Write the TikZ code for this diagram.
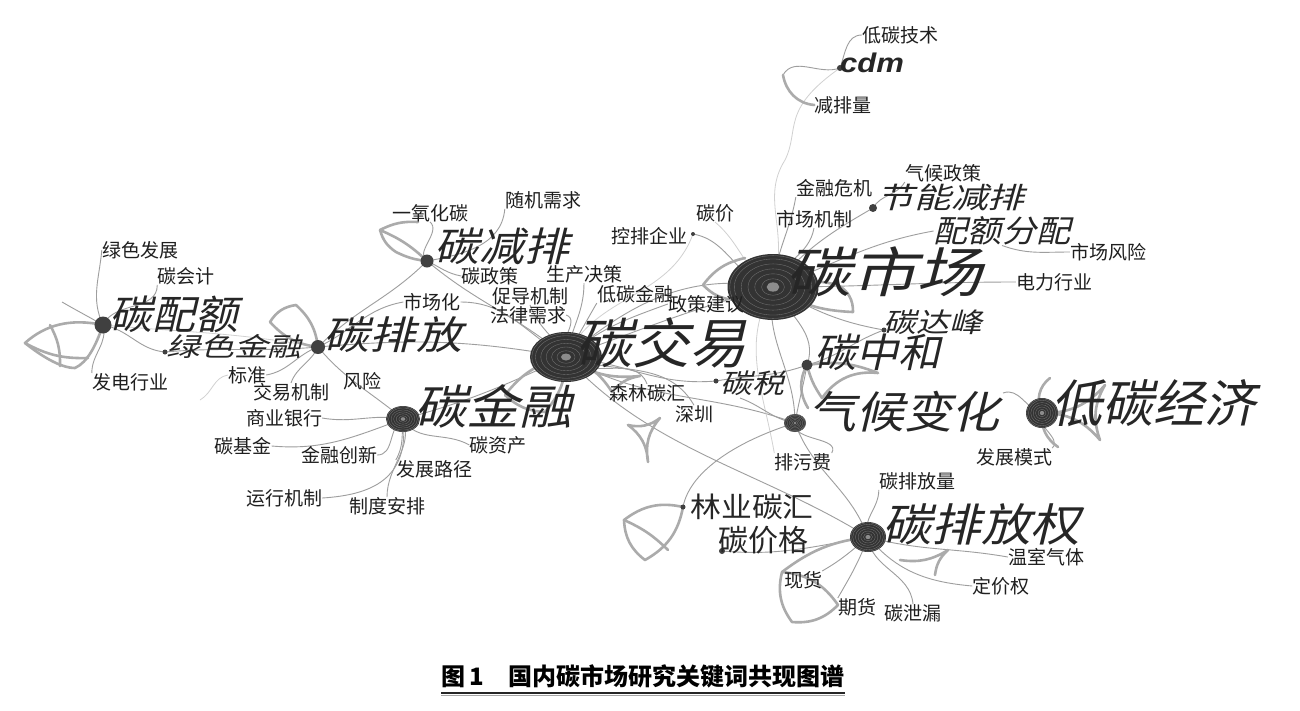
\documentclass[tikz,border=0pt]{standalone}
\usepackage{fontspec}
\newfontfamily\cjk{Noto Sans CJK SC}
\newfontfamily\cjksl[FakeSlant=0.22]{Noto Sans CJK SC}
\newfontfamily\latf{Liberation Sans}
\usetikzlibrary{shapes.geometric}
\pgfdeclarelayer{bglines}
\pgfsetlayers{bglines,main}
\newcommand\kwd[3]{\scalebox{#2}[1]{\fontsize{#1}{#1}\selectfont #3}}
\newcommand\hubrings[3]{%
  \foreach \k in {0.25,0.4,0.55,0.7,0.85,0.95}{\draw[black!55, line width=0.35pt] (#1) ellipse ({#2*\k} and {#3*\k});}%
  \fill[black!45] (#1) ellipse ({#2*0.14} and {#3*0.14});}
\tikzset{
  lbl/.style={inner sep=0pt, text=black!88, font=\cjk\fontsize{19}{19}\selectfont},
  kw/.style={inner sep=0pt, text=black!85},
  hub/.style={ellipse, inner sep=0pt, fill=black!80},
  kdot/.style={circle, inner sep=0pt, fill=black!75, minimum size=#1},
  lnk/.style={draw=black!38, line width=0.9pt},
  faint/.style={draw=black!18, line width=0.8pt},
  wing/.style={draw=black!33, line width=2.6pt, line join=round, line cap=round},
}
\begin{document}
\begin{tikzpicture}[x=1pt,y=-1pt]
\useasboundingbox (0,0) rectangle (1300,710);
\begin{pgfonlayer}{bglines}
\fill[white] (0,0) rectangle (1300,710);
\end{pgfonlayer}

% ---------- free coordinates for wing shapes / loose ends ----------
\coordinate (pe1) at (62,302);
\coordinate (w1a) at (25,343);
\coordinate (w1b) at (75,368);
\coordinate (bz1) at (200,400);
\coordinate (cdmw) at (783,75);
\coordinate (qh1) at (740,398);
\coordinate (dj1) at (1003,393);

% ---------- hubs and dots ----------
\node[hub, minimum width=91pt, minimum height=66pt] (sc) at (773,287) {};
\hubrings{sc}{45.5}{33}
\node[hub, minimum width=72pt, minimum height=50pt] (jy) at (566,357) {};
\hubrings{jy}{36}{25}
\node[hub, minimum width=34pt, minimum height=26pt] (jr) at (403,419) {};
\hubrings{jr}{17}{13}
\node[hub, minimum width=32pt, minimum height=30pt] (dj) at (1042,413) {};
\hubrings{dj}{16}{15}
\node[hub, minimum width=36pt, minimum height=30pt] (pfq) at (868,537) {};
\hubrings{pfq}{18}{15}
\node[hub, minimum width=22pt, minimum height=18pt] (qh) at (795,423) {};
\hubrings{qh}{11}{9}
\node[kdot=17pt] (pe) at (103,325) {};
\node[kdot=14pt] (pf) at (318,347) {};
\node[kdot=13pt] (jp) at (427,261) {};
\node[kdot=11pt] (zh) at (807,365) {};
\node[kdot=8pt] (jn) at (873,208) {};
\node[kdot=5pt] (ls) at (165,352) {};
\node[kdot=5pt] (tsd) at (716,381) {};
\node[kdot=5pt] (tdfd) at (884,330) {};
\node[kdot=5pt] (lyd) at (683,507) {};
\node[kdot=6pt] (tjgd) at (722,551) {};
\node[kdot=6pt] (cdmd) at (840,68) {};
\node[kdot=4pt] (kpd) at (693,234) {};

% ---------- big keyword labels ----------
\node[kw] (scL) at (884,272) {\cjksl\kwd{54}{1.22}{碳市场}};
\node[kw] (jyL) at (661,343) {\cjksl\kwd{54}{1.06}{碳交易}};
\node[kw] (djL) at (1153,403) {\cjksl\kwd{51}{1.0}{低碳经济}};
\node[kw] (qhL) at (904,412) {\cjksl\kwd{44}{1.09}{气候变化}};
\node[kw] (pfqL) at (981,524) {\cjksl\kwd{45}{1.1}{碳排放权}};
\node[kw] (jrL) at (493,406) {\cjksl\kwd{47}{1.12}{碳金融}};
\node[kw] (pfL) at (393,335) {\cjksl\kwd{39}{1.18}{碳排放}};
\node[kw] (jpL) at (502,246) {\cjksl\kwd{40}{1.12}{碳减排}};
\node[kw] (peL) at (174,314) {\cjksl\kwd{40}{1.07}{碳配额}};
\node[kw] (lsL) at (234,346) {\cjksl\kwd{26}{1.3}{绿色金融}};
\node[kw] (zhL) at (877,352) {\cjksl\kwd{40}{1.05}{碳中和}};
\node[kw] (jnL) at (951,198) {\cjksl\kwd{29}{1.27}{节能减排}};
\node[kw] (pefpL) at (1002,231) {\cjksl\kwd{31}{1.1}{配额分配}};
\node[kw] (tdfL) at (933,322) {\cjksl\kwd{27}{1.22}{碳达峰}};
\node[kw] (tsL) at (752,383) {\cjksl\kwd{27}{1.18}{碳税}};
\node[kw] (lyL) at (752,507) {\cjk\kwd{28}{1.1}{林业碳汇}};
\node[kw] (tjgL) at (763,540) {\cjk\kwd{30}{1.0}{碳价格}};
\node[kw] (cdmL) at (872,63) {\latf\bfseries\itshape\kwd{27}{1.15}{cdm}};

% ---------- small labels ----------
\node[lbl] (dtjsL) at (900,35) {低碳技术};
\node[lbl] (jplL) at (843,105) {减排量};
\node[lbl] (qhzcL) at (943,173) {气候政策};
\node[lbl] (jrwjL) at (834,188) {金融危机};
\node[lbl] (scjzL) at (814,219) {市场机制};
\node[lbl] (tjL) at (715,213) {碳价};
\node[lbl] (kpqyL) at (649,236) {控排企业};
\node[lbl] (sjxqL) at (543,200) {随机需求};
\node[lbl] (yyhtL) at (430,213) {一氧化碳};
\node[lbl] (scfxL) at (1108,252) {市场风险};
\node[lbl] (dlhyL) at (1054,282) {电力行业};
\node[lbl] (lsfzL) at (140,250) {绿色发展};
\node[lbl] (tkjL) at (186,276) {碳会计};
\node[lbl] (tzcL) at (490,276) {碳政策};
\node[lbl] (scjcL) at (584,274) {生产决策};
\node[lbl] (schL) at (432,302) {市场化};
\node[lbl] (cdjzL) at (530,296) {促导机制};
\node[lbl] (flxqL) at (528,315) {法律需求};
\node[lbl] (dtjrL) at (635,294) {低碳金融};
\node[lbl] (zcjyL) at (706,304) {政策建议};
\node[lbl] (fdhyL) at (130,382) {发电行业};
\node[lbl] (bzL) at (247,375) {标准};
\node[lbl] (jyjzL) at (291,392) {交易机制};
\node[lbl] (fxL) at (362,381) {风险};
\node[lbl] (syyhL) at (284,418) {商业银行};
\node[lbl] (tjjL) at (243,446) {碳基金};
\node[lbl] (jrcxL) at (339,455) {金融创新};
\node[lbl] (tzchL) at (498,445) {碳资产};
\node[lbl] (fzljL) at (434,469) {发展路径};
\node[lbl] (yxjzL) at (284,498) {运行机制};
\node[lbl] (zdapL) at (387,506) {制度安排};
\node[lbl] (sllhL) at (647,393) {森林碳汇};
\node[lbl] (szL) at (694,414) {深圳};
\node[lbl] (pwfL) at (803,462) {排污费};
\node[lbl] (fzmsL) at (1014,457) {发展模式};
\node[lbl] (tpflL) at (917,481) {碳排放量};
\node[lbl] (wsqtL) at (1046,557) {温室气体};
\node[lbl] (djqL) at (1001,586) {定价权};
\node[lbl] (xhL) at (803,580) {现货};
\node[lbl] (qhuoL) at (857,607) {期货};
\node[lbl] (txlL) at (913,613) {碳泄漏};

% ---------- connectors (on the layer below the nodes) ----------
\begin{pgfonlayer}{bglines}
% 碳配额
\draw[lnk] (pe.center) to[out=115,in=-95] (lsfzL.west);
\draw[lnk] (pe.center) to[out=65,in=-90] (tkjL.south west);
\draw[lnk] (pe.center) to[out=-75,in=90] (fdhyL.north west);
\draw[lnk] (pe.center) to[out=-10,in=175] (ls.center);
\draw[lnk] (pe.center) to[out=150,in=-30] (pe1);
\draw[wing] (pe.center) .. controls (70,318) and (45,325) .. (w1a) .. controls (40,355) and (60,368) .. (w1b) .. controls (88,362) and (96,345) .. (pe.center);
\draw[wing] (w1a) to[bend right=15] (88,358);
\draw[wing] (50,325) to[bend left=15] (60,366);
% 绿色金融 / 碳排放
\draw[lnk] (ls.center) to[out=5,in=185] (pf.center);
\draw[faint] (pe.center) to[out=-5,in=170] (pf.center);
\draw[lnk] (pf.center) to[out=200,in=10] (bzL.east);
\draw[faint] (bzL.west) to[out=190,in=30] (bz1);
\draw[lnk] (pf.center) to[out=245,in=70] (jyjzL.north);
\draw[lnk] (pf.center) to[out=-50,in=140] (jr.center);
\draw[lnk] (pf.center) to[out=25,in=190] (schL.west);
\draw[lnk] (schL.east) to[out=0,in=150] (jy.center);
\draw[lnk] (pf.center) to[out=5,in=170] (jy.center);
\draw[lnk] (pf.center) to[out=45,in=225] (jp.center);
\draw[wing] (pf.center) to[bend left=20] (270,322) to[bend left=25] (296,305) to[bend left=20] (pf.center);
% 碳减排
\draw[wing] (jp.center) to[bend right=10] (380,230) to[bend right=20] (396,252) to[bend right=10] (jp.center);
\draw[wing] (380,230) to[bend left=15] (418,222);
\draw[lnk] (jp.center) to[out=150,in=-40] (yyhtL.south);
\draw[lnk] (jp.center) to[out=10,in=-95] (sjxqL.south west);
\draw[lnk] (jp.center) to[out=-25,in=170] (tzcL.west);
\draw[lnk] (jp.center) to[out=-40,in=140] (jy.center);
% 碳金融
\draw[lnk] (jr.center) to[out=170,in=-10] (syyhL.east);
\draw[lnk] (jr.center) to[out=200,in=-5] (tjjL.east);
\draw[lnk] (jr.center) to[out=-150,in=0] (jrcxL.east);
\draw[lnk] (jr.center) to[out=-95,in=60] (fzljL.north west);
\draw[lnk] (jr.center) to[out=-60,in=150] (tzchL.west);
\draw[lnk] (jr.center) .. controls (410,480) and (370,495) .. (yxjzL.east);
\draw[lnk] (jr.center) to[out=-70,in=90] (zdapL.north);
\draw[lnk] (jr.center) to[out=15,in=205] (jy.center);
% 碳交易
\draw[lnk] (jy.center) to[out=120,in=-70] (cdjzL.south);
\draw[lnk] (jy.center) to[out=140,in=-20] (flxqL.east);
\draw[lnk] (jy.center) to[out=80,in=-90] (scjcL.south);
\draw[lnk] (jy.center) to[out=60,in=-120] (dtjrL.south west);
\draw[lnk] (jy.center) to[out=40,in=200] (zcjyL.west);
\draw[lnk] (jy.center) to[out=20,in=195] (sc.center);
\draw[lnk] (jy.center) to[out=40,in=170] (sc.center);
\draw[lnk] (jy.center) to[out=-50,in=110] (sllhL.north);
\draw[lnk] (jy.center) to[out=-20,in=120] (szL.north);
\draw[lnk] (jy.center) to[out=-5,in=185] (tsd.center);
\draw[faint] (jy.center) to[out=65,in=-110] (kpd.center);
\draw[lnk] (jy.center) to[out=-30,in=160] (qh.center);
\draw[lnk] (jy.center) .. controls (650,450) and (760,470) .. (pfq.center);
\draw[wing] (jy.center) to[bend right=20] (505,395) to[bend right=20] (545,412) to[bend right=20] (jy.center);
\draw[wing] (jy.center) to[bend left=20] (612,392) to[bend left=20] (640,376) to[bend left=20] (jy.center);
\draw[wing] (628,425) to[bend right=25] (660,418) to[bend right=25] (648,462) to[bend right=25] (628,425);
% 碳市场
\draw[faint] (sc.center) .. controls (790,230) and (760,200) .. (785,160) .. controls (800,130) and (780,110) .. (cdmd.center);
\draw[lnk] (sc.center) to[out=85,in=-100] (jrwjL.south west);
\draw[lnk] (sc.center) to[out=70,in=-100] (scjzL.south);
\draw[lnk] (sc.center) to[out=50,in=210] (jn.center);
\draw[lnk] (jn.center) to[out=60,in=-120] (qhzcL.south west);
\draw[lnk] (sc.center) to[out=20,in=190] (pefpL.west);
\draw[lnk] (sc.center) to[out=0,in=180] (dlhyL.west);
\draw[lnk] (pefpL.south) to[out=-20,in=180] (scfxL.west);
\draw[lnk] (sc.center) to[out=-30,in=170] (tdfd.center);
\draw[lnk] (sc.center) to[out=-60,in=70] (zh.center);
\draw[faint] (sc.center) to[out=150,in=-40] (tjL.south);
\draw[lnk] (sc.center) to[out=170,in=-10] (kpd.center);
\draw[lnk] (sc.center) to[out=-100,in=90] (qh.center);
\draw[faint] (sc.center) to[out=-120,in=100] (pwfL.north west);
\draw[wing] (745,258) to[bend right=20] (703,285) to[bend right=20] (735,300);
\draw[wing] (sc.center) to[bend right=15] (853,312) to[bend right=30] (838,285) to[bend right=15] (sc.center);
% cdm
\draw[lnk] (cdmd.center) to[out=70,in=180] (dtjsL.west);
\draw[lnk] (cdmd.center) to[out=200,in=60] (cdmw);
\draw[wing] (cdmw) to[out=-80,in=175] (jplL.west);
% 碳中和
\draw[lnk] (zh.center) to[out=15,in=200] (tdfd.center);
\draw[lnk] (zh.center) to[out=200,in=10] (tsd.center);
\draw[wing] (zh.center) to[bend left=15] (878,373) to[bend right=30] (822,398) to[bend left=10] (zh.center);
\draw[wing] (zh.center) to[bend right=30] (808,408);
\draw[lnk] (zh.center) to[out=-100,in=80] (qh.center);
% 气候变化
\draw[lnk] (qh.center) to[out=170,in=-20] (qh1);
\draw[lnk] (qh.center) to[out=-100,in=60] (pwfL.north east);
\draw[lnk] (qh.center) to[out=-70,in=110] (pfq.center);
\draw[lnk] (qh.center) .. controls (740,440) and (690,470) .. (lyd.center);
% 低碳经济
\draw[lnk] (dj.center) to[out=220,in=40] (fzmsL.north east);
\draw[lnk] (dj.center) to[out=165,in=20] (dj1);
\draw[wing] (dj.center) to[bend left=40] (1050,378);
\draw[wing] (dj.center) to[bend right=25] (1105,385) to[bend right=25] (1100,440) to[bend right=25] (dj.center);
\draw[wing] (dj.center) to[bend right=30] (1058,447);
% 碳排放权
\draw[lnk] (pfq.center) to[out=110,in=-90] (tpflL.south west);
\draw[lnk] (pfq.center) to[out=-15,in=170] (wsqtL.west);
\draw[lnk] (pfq.center) to[out=-50,in=175] (djqL.west);
\draw[lnk] (pfq.center) to[out=-85,in=95] (txlL.north);
\draw[lnk] (pfq.center) to[out=-110,in=60] (qhuoL.north west);
\draw[lnk] (pfq.center) to[out=-140,in=30] (xhL.north east);
\draw[lnk] (pfq.center) to[out=190,in=-5] (tjgd.center);
\draw[wing] (782,572) to[bend left=25] (838,605) to[bend left=25] (792,622) to[bend left=25] (782,572);
\draw[wing] (pfq.center) to[bend right=15] (782,572);
\draw[wing] (900,560) to[bend right=20] (948,550) to[bend right=20] (935,575);
% 林业碳汇
\draw[wing] (lyd.center) to[bend right=25] (624,520) to[bend right=25] (645,560) to[bend right=25] (lyd.center);
\draw[wing] (624,520) to[bend left=10] (668,550);
\end{pgfonlayer}

% ---------- caption ----------
\node[inner sep=0pt, font=\cjk\bfseries\fontsize{24}{24}\selectfont] (cap) at (643,676) {图\,1\quad 国内碳市场研究关键词共现图谱};
\draw[black!85, line width=1.3pt] ([yshift=-5pt]cap.south west) -- ([yshift=-5pt]cap.south east);
\draw[black!35, line width=1pt] ([yshift=-7.5pt]cap.south west) -- ([yshift=-7.5pt]cap.south east);
\end{tikzpicture}
\end{document}
